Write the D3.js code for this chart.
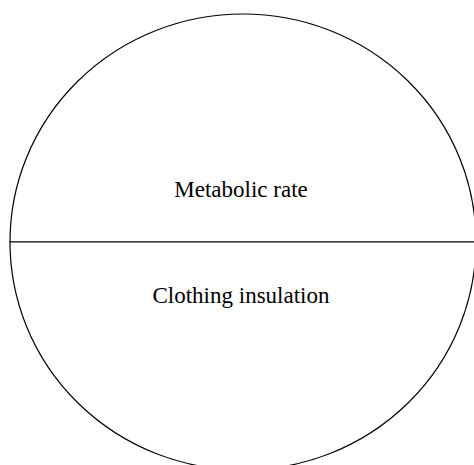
<!DOCTYPE html>
<html>
<head>
<meta charset="utf-8">
<script src="https://cdn.jsdelivr.net/npm/d3@7"></script>
<style>
    html, body { margin: 0; padding: 0; background: #fff; }
    svg { display: block; }
</style>
</head>
<body>
<div id="chart"></div>
<script>
'use strict';

// pie slices, top half first
var categories = ['Metabolic rate', 'Clothing insulation'];
var shares = [50, 50];

var width = 474,
    height = 465;

var center = { x: 243, y: 242 };
var rx = 233,
    ry = 228;

var svg = d3.select('#chart').append('svg')
    .attr('width', width)
    .attr('height', height);

var pie = d3.pie()
    .sort(null)
    .startAngle(-Math.PI / 2)
    .endAngle(3 * Math.PI / 2);

var slices = pie(shares);

var arc = d3.arc()
    .innerRadius(0)
    .outerRadius(rx);

// pie is drawn as a circle and squashed a bit vertically, like the original
var g = svg.append('g')
    .attr('transform', 'translate(' + center.x + ',' + center.y + ') scale(1,' + (ry / rx) + ')');

g.selectAll('path')
    .data(slices)
    .enter().append('path')
    .attr('d', arc)
    .style('fill', '#fff')
    .style('stroke', '#000')
    .style('stroke-width', 1.2)
    .attr('vector-effect', 'non-scaling-stroke');

var labelArc = d3.arc()
    .innerRadius(53)
    .outerRadius(53);

svg.selectAll('text.label')
    .data(slices)
    .enter().append('text')
    .attr('class', 'label')
    .attr('x', function(d) { return center.x + labelArc.centroid(d)[0] - 2; })
    .attr('y', function(d) { return center.y + labelArc.centroid(d)[1]; })
    .attr('text-anchor', 'middle')
    .attr('dominant-baseline', 'central')
    .style('font-family', '"Liberation Serif", "Times New Roman", serif')
    .style('font-size', '23px')
    .style('fill', '#000')
    .text(function(d, i) { return categories[i]; });
</script>
</body>
</html>
